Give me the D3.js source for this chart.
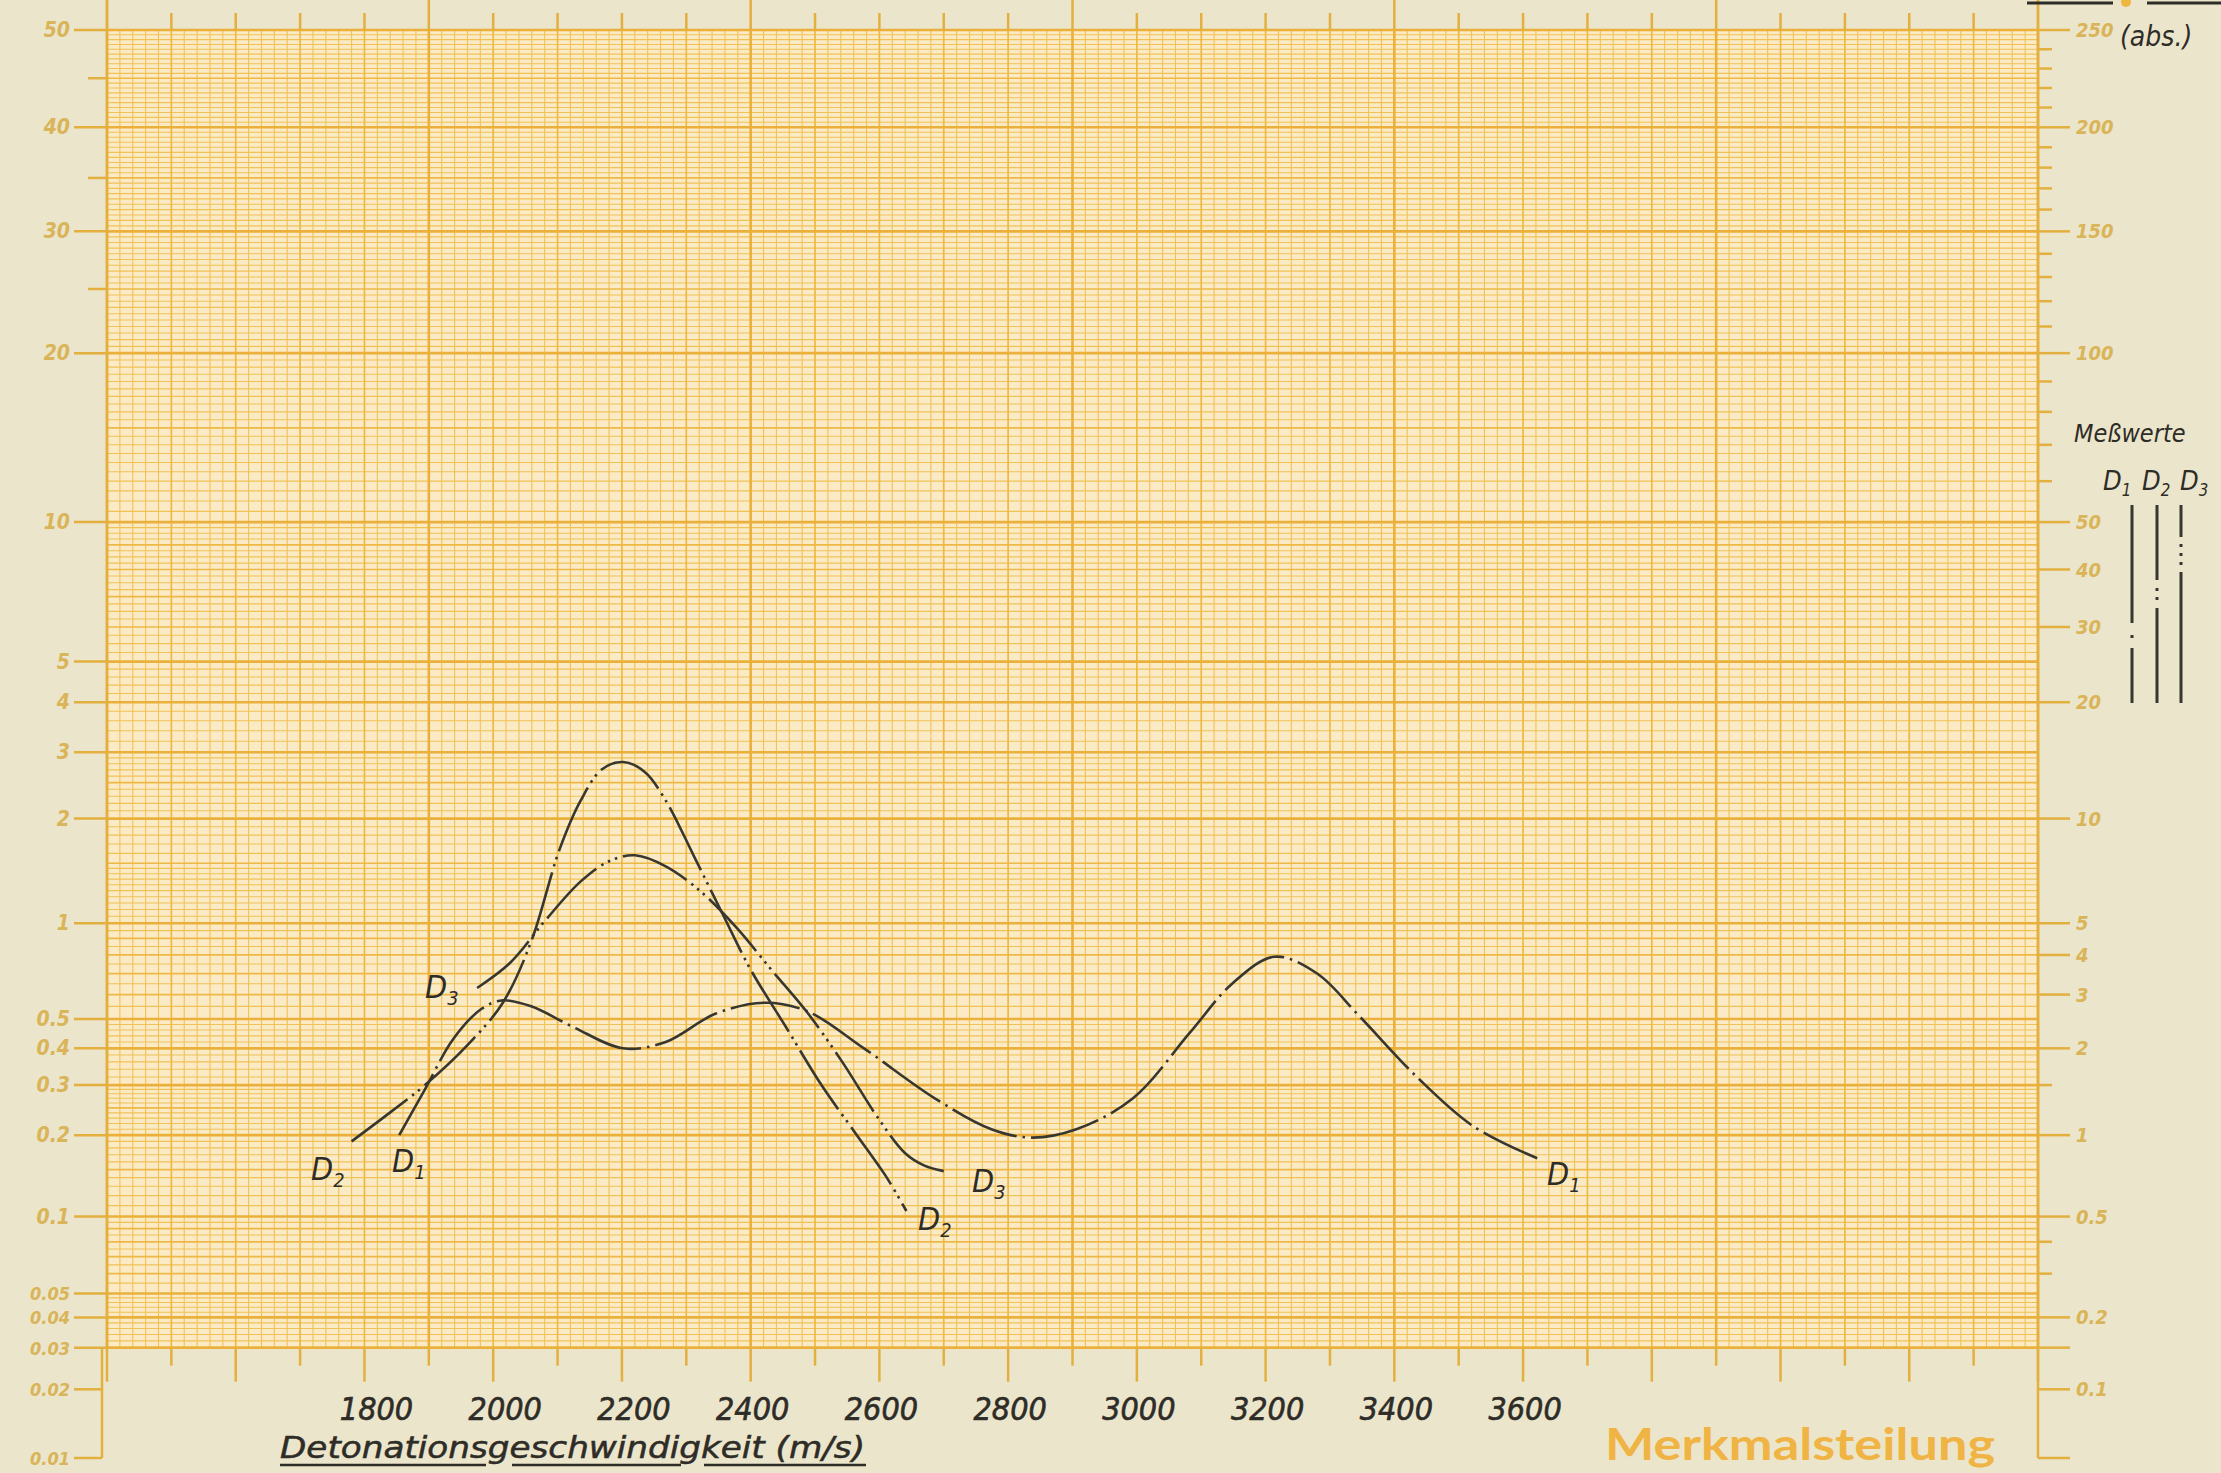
<!DOCTYPE html>
<html lang="de">
<head>
<meta charset="UTF-8">
<script src="https://d3js.org/d3.v7.min.js"></script>
<style>
body { margin: 0; background: #ebe5cb; }
svg { display: block; }
.hand { font-family: "DejaVu Sans Condensed", "DejaVu Sans", sans-serif; font-style: italic; fill: #2e2c27; }
.scale-label { font-family: "DejaVu Sans Condensed", "DejaVu Sans", sans-serif; font-style: italic; font-weight: bold; fill: #d9b458; }
.grid-thin { stroke: #f0c256; stroke-width: 1.1; }
.grid-mid { stroke: #edb944; stroke-width: 1.7; }
.grid-thick { stroke: #eab03a; stroke-width: 2.6; }
.tick { stroke: #e3b040; stroke-width: 2.5; }
.curve { fill: none; stroke: #38372f; stroke-width: 2.6; }
</style>
</head>
<body>
<svg id="chart"></svg>
<script>
// Detonationsgeschwindigkeit (m/s) and frequency in percent
const d1Speed = [1854, 1894, 1938, 1982, 2015, 2059, 2125, 2202, 2268, 2345, 2422, 2488, 2576, 2686, 2774, 2836, 2906, 2994, 3082, 3148, 3214, 3280, 3346, 3435, 3523, 3622];
const d1Pct   = [0.20, 0.29, 0.43, 0.54, 0.575, 0.55, 0.47, 0.40, 0.42, 0.52, 0.565, 0.53, 0.40, 0.27, 0.21, 0.196, 0.21, 0.27, 0.45, 0.65, 0.79, 0.70, 0.51, 0.32, 0.215, 0.165];
const d2Speed = [1780, 1839, 1894, 1960, 2015, 2059, 2103, 2136, 2169, 2202, 2235, 2268, 2312, 2356, 2400, 2455, 2510, 2565, 2609, 2642];
const d2Pct   = [0.19, 0.24, 0.30, 0.41, 0.565, 0.88, 1.64, 2.24, 2.71, 2.83, 2.67, 2.24, 1.57, 1.07, 0.72, 0.47, 0.30, 0.20, 0.143, 0.105];
const d3Speed = [1975, 2026, 2081, 2136, 2180, 2220, 2268, 2323, 2378, 2433, 2488, 2543, 2598, 2640, 2670, 2700];
const d3Pct   = [0.63, 0.755, 1.02, 1.33, 1.52, 1.58, 1.47, 1.24, 0.97, 0.716, 0.525, 0.358, 0.23, 0.172, 0.155, 0.148];

// tick labels
const speedLabels = [1800, 2000, 2200, 2400, 2600, 2800, 3000, 3200, 3400, 3600];
const pctLabels = [50, 40, 30, 20, 10, 5, 4, 3, 2, 1, 0.5, 0.4, 0.3, 0.2, 0.1, 0.05, 0.04, 0.03, 0.02, 0.01];
const pctMinor = [45, 35, 25];
const absLabels = [250, 200, 150, 100, 50, 40, 30, 20, 10, 5, 4, 3, 2, 1, 0.5, 0.2, 0.1];
const absMinor = [240, 230, 220, 210, 190, 180, 170, 160, 140, 130, 120, 110, 90, 80, 70, 60, 1.5, 0.4, 0.3];
const seriesNames = ["D1", "D2", "D3"];

const W = 2221, H = 1473;
const svg = d3.select('#chart').attr('width', W).attr('height', H);

// inverse normal cdf (Acklam)
function probit(p) {
    const a = [-3.969683028665376e+01, 2.209460984245205e+02, -2.759285104469687e+02, 1.383577518672690e+02, -3.066479806614716e+01, 2.506628277459239e+00];
    const b = [-5.447609879822406e+01, 1.615858368580409e+02, -1.556989798598866e+02, 6.680131188771972e+01, -1.328068155288572e+01];
    const c = [-7.784894002430293e-03, -3.223964580411365e-01, -2.400758277161838e+00, -2.549732539343734e+00, 4.374664141464968e+00, 2.938163982698783e+00];
    const d = [7.784695709041462e-03, 3.224671290700398e-01, 2.445134137142996e+00, 3.754408661907416e+00];
    const pl = 0.02425;
    let q, r;
    if (p < pl) {
        q = Math.sqrt(-2 * Math.log(p));
        return (((((c[0]*q+c[1])*q+c[2])*q+c[3])*q+c[4])*q+c[5]) / ((((d[0]*q+d[1])*q+d[2])*q+d[3])*q+1);
    }
    if (p > 1 - pl) return -probit(1 - p);
    q = p - 0.5; r = q * q;
    return (((((a[0]*r+a[1])*r+a[2])*r+a[3])*r+a[4])*r+a[5])*q / (((((b[0]*r+b[1])*r+b[2])*r+b[3])*r+b[4])*r+1);
}

const x = d3.scaleLinear().domain([1400, 4400]).range([107, 2038]);
const y = d3.scaleLinear().domain([0, 3.719]).range([30, 1458]);   // normal quantile
const yP = pct => y(-probit(pct / 100));
const yAbs = a => yP(a / 5);   // 250 abs. = 50 %

const gTop = yP(50), gBot = yP(0.03), gLeft = x(1400), gRight = x(4400);

// paper
svg.append('rect').attr('width', W).attr('height', H).attr('fill', '#ebe5cb');
svg.append('rect').attr('x', gLeft).attr('y', gTop).attr('width', gRight - gLeft).attr('height', gBot - gTop).attr('fill', '#fbeac6');

// grid lines
function stepRange(a, b, s) {
    return d3.range(Math.round(a / s), Math.round(b / s) + 1).map(k => +(k * s).toFixed(4));
}
let hVals = [].concat(
    stepRange(20, 50, 0.5), stepRange(10, 20, 0.5), stepRange(5, 10, 0.25), stepRange(3, 5, 0.2),
    stepRange(1.5, 3, 0.1), stepRange(0.5, 1.5, 0.05), stepRange(0.3, 0.5, 0.02), stepRange(0.1, 0.3, 0.01),
    stepRange(0.05, 0.1, 0.005), stepRange(0.03, 0.05, 0.002));
hVals = Array.from(new Set(hVals));
const hThick = new Set(pctLabels);
const hMid = new Set([45, 35, 25, 15, 9, 8, 7, 6, 2.5, 1.5, 0.9, 0.8, 0.7, 0.6, 0.15, 0.25, 0.09, 0.08, 0.07, 0.06]);
const hClass = v => hThick.has(v) ? 'grid-thick' : hMid.has(v) ? 'grid-mid' : 'grid-thin';

const vVals = d3.range(1400, 4401, 20);
const vClass = v => (v - 1400) % 500 === 0 ? 'grid-thick' : v % 100 === 0 ? 'grid-mid' : 'grid-thin';

const grid = svg.append('g');
['grid-thin', 'grid-mid', 'grid-thick'].forEach(cls => {
    grid.selectAll('.v.' + cls)
        .data(vVals.filter(v => vClass(v) === cls))
        .enter().append('line')
        .attr('class', 'v ' + cls)
        .attr('x1', d => x(d)).attr('x2', d => x(d))
        .attr('y1', gTop).attr('y2', gBot);
    grid.selectAll('.h.' + cls)
        .data(hVals.filter(v => hClass(v) === cls))
        .enter().append('line')
        .attr('class', 'h ' + cls)
        .attr('x1', gLeft).attr('x2', gRight)
        .attr('y1', d => yP(d)).attr('y2', d => yP(d));
});

// frame lines
const axes = svg.append('g');
axes.append('line').attr('class', 'tick').attr('x1', gLeft).attr('x2', gLeft).attr('y1', 0).attr('y2', gBot);
axes.append('line').attr('class', 'tick').attr('x1', gLeft - 5).attr('x2', gLeft - 5).attr('y1', gBot).attr('y2', yP(0.01));
axes.append('line').attr('class', 'tick').attr('x1', gRight).attr('x2', gRight).attr('y1', 0).attr('y2', yAbs(0.05));
axes.append('line').attr('class', 'tick').attr('x1', gRight).attr('x2', gRight + 32).attr('y1', yAbs(0.05)).attr('y2', yAbs(0.05));

// top ticks
axes.selectAll('.topTick')
    .data(d3.range(1400, 4401, 100))
    .enter().append('line')
    .attr('class', 'tick topTick')
    .attr('x1', d => x(d)).attr('x2', d => x(d))
    .attr('y1', d => (d - 1400) % 500 === 0 ? 0 : 13).attr('y2', gTop);

// bottom ticks
axes.selectAll('.botTick')
    .data(d3.range(1400, 4401, 100))
    .enter().append('line')
    .attr('class', 'tick botTick')
    .attr('x1', d => x(d)).attr('x2', d => x(d))
    .attr('y1', gBot).attr('y2', d => d % 200 === 0 ? gBot + 34 : gBot + 18);

// left percent scale
axes.selectAll('.lTick')
    .data(pctLabels)
    .enter().append('line')
    .attr('class', 'tick lTick')
    .attr('x1', 74).attr('x2', d => d < 0.03 ? gLeft - 5 : gLeft)
    .attr('y1', d => yP(d)).attr('y2', d => yP(d));
axes.selectAll('.lMinor')
    .data(pctMinor)
    .enter().append('line')
    .attr('class', 'tick lMinor')
    .attr('x1', 88).attr('x2', gLeft)
    .attr('y1', d => yP(d)).attr('y2', d => yP(d));
axes.selectAll('.lLabel')
    .data(pctLabels)
    .enter().append('text')
    .attr('class', 'scale-label lLabel')
    .attr('x', 70).attr('y', d => yP(d) + 7)
    .attr('text-anchor', 'end')
    .attr('font-size', d => d < 0.1 ? 18 : 21)
    .text(d => String(d));

// right absolute scale
axes.selectAll('.rTick')
    .data(absLabels)
    .enter().append('line')
    .attr('class', 'tick rTick')
    .attr('x1', gRight).attr('x2', gRight + 32)
    .attr('y1', d => yAbs(d)).attr('y2', d => yAbs(d));
axes.selectAll('.rMinor')
    .data(absMinor)
    .enter().append('line')
    .attr('class', 'tick rMinor')
    .attr('x1', gRight).attr('x2', gRight + 14)
    .attr('y1', d => yAbs(d)).attr('y2', d => yAbs(d));
axes.append('line').attr('class', 'tick').attr('x1', gRight).attr('x2', gRight + 32).attr('y1', gBot).attr('y2', gBot);
axes.selectAll('.rLabel')
    .data(absLabels)
    .enter().append('text')
    .attr('class', 'scale-label rLabel')
    .attr('x', gRight + 38).attr('y', d => yAbs(d) + 7)
    .attr('font-size', 20)
    .text(d => String(d));

// top right remnants of cut-off heading
svg.append('line').attr('x1', 2027).attr('x2', 2113).attr('y1', 3).attr('y2', 3).attr('stroke', '#2e2c27').attr('stroke-width', 3);
svg.append('line').attr('x1', 2147).attr('x2', 2221).attr('y1', 3).attr('y2', 3).attr('stroke', '#2e2c27').attr('stroke-width', 3);
svg.append('circle').attr('cx', 2126).attr('cy', 2).attr('r', 5).attr('fill', '#eeb540');
svg.append('text').attr('class', 'hand').attr('x', 2120).attr('y', 46).attr('font-size', 28).text('(abs.)');

// x labels and title
svg.selectAll('.xLabel')
    .data(speedLabels)
    .enter().append('text')
    .attr('class', 'hand xLabel')
    .attr('x', d => x(d) + (d < 2400 ? 12 : 2))
    .attr('y', 1420)
    .attr('text-anchor', 'middle')
    .attr('font-size', 32)
    .attr('stroke', '#2e2c27').attr('stroke-width', 0.6)
    .text(d => d);

svg.append('text').attr('class', 'hand')
    .attr('x', 280).attr('y', 1458)
    .attr('font-size', 31)
    .attr('stroke', '#2e2c27').attr('stroke-width', 0.5)
    .attr('textLength', 585).attr('lengthAdjust', 'spacingAndGlyphs')
    .text('Detonationsgeschwindigkeit (m/s)');
[[280, 486], [512, 681], [704, 866]].forEach(s => {
    svg.append('line').attr('x1', s[0]).attr('x2', s[1]).attr('y1', 1465).attr('y2', 1465)
        .attr('stroke', '#2e2c27').attr('stroke-width', 2.5);
});

svg.append('text')
    .attr('x', 1605).attr('y', 1460)
    .attr('font-family', 'Lato, "DejaVu Sans", sans-serif')
    .attr('font-weight', 'bold')
    .attr('font-size', 43)
    .attr('fill', '#f0b444')
    .attr('textLength', 390).attr('lengthAdjust', 'spacingAndGlyphs')
    .text('Merkmalsteilung');

// curves
const dashes = ['70 6 2.5 6', '70 6 2.5 5 2.5 6', '70 6 2.5 5 2.5 5 2.5 6'];
const series = [d3.zip(d1Speed, d1Pct), d3.zip(d2Speed, d2Pct), d3.zip(d3Speed, d3Pct)];
const line = d3.line()
    .x(d => x(d[0]))
    .y(d => yP(d[1]))
    .curve(d3.curveCatmullRom.alpha(0.5));

svg.append('g').selectAll('path')
    .data(series)
    .enter().append('path')
    .attr('class', 'curve')
    .attr('stroke-dasharray', (d, i) => dashes[i])
    .attr('d', line);

// curve labels
function dLabel(px, py, name, size) {
    const t = svg.append('text').attr('class', 'hand').attr('x', px).attr('y', py).attr('font-size', size);
    t.append('tspan').text(name[0]);
    t.append('tspan').attr('font-size', size * 0.62).attr('dy', size * 0.22).text(name[1]);
}
const labelSpots = [
    ['D3', 425, 998], ['D2', 311, 1180], ['D1', 392, 1172],
    ['D3', 972, 1192], ['D2', 918, 1230], ['D1', 1547, 1185]
];
labelSpots.forEach(s => dLabel(s[1], s[2], s[0], 32));

// legend
svg.append('text').attr('class', 'hand').attr('x', 2074).attr('y', 442).attr('font-size', 25).text('Meßwerte');
const legendX = [2132, 2157, 2181];
const legendText = [2103, 2142, 2180];
const legendDash = ['118 12 3 10 80', '75 8 3 6 3 8 120', '32 7 3 6 3 6 3 7 160'];
seriesNames.forEach((n, i) => {
    dLabel(legendText[i], 490, n, 27);
    svg.append('line')
        .attr('x1', legendX[i]).attr('x2', legendX[i])
        .attr('y1', 505).attr('y2', 703)
        .attr('stroke', '#38372f').attr('stroke-width', 3)
        .attr('stroke-dasharray', legendDash[i]);
});
</script>
</body>
</html>
